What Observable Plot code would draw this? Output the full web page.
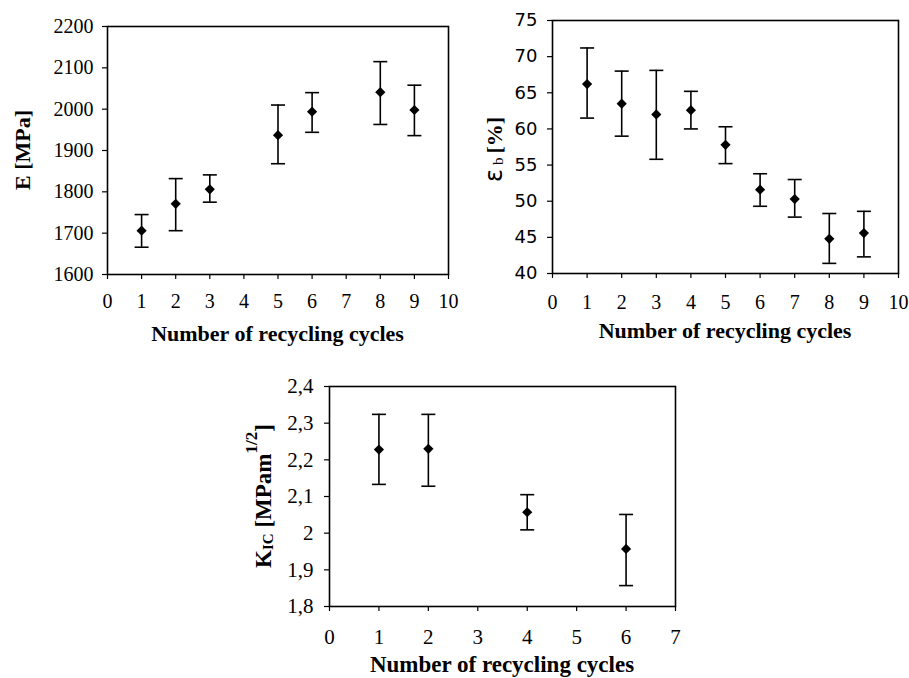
<!DOCTYPE html>
<html>
<head>
<meta charset="utf-8">
<script src="https://cdn.jsdelivr.net/npm/d3@7"></script>
<script src="https://cdn.jsdelivr.net/npm/@observablehq/plot@0.6"></script>
<style>
  html, body { margin: 0; padding: 0; background: #fff; }
  #wrap { position: relative; width: 909px; height: 678px; overflow: hidden; background: #fff; }
  #wrap svg { position: absolute; overflow: visible; }
</style>
</head>
<body>
<div id="wrap"></div>
<script>
// ---- Panel 1: Young's modulus ----
const eCycles = [1, 2, 3, 5, 6, 8, 9];
const eMean   = [1706, 1771, 1806, 1937, 1994, 2041, 1998];
const eHigh   = [1745, 1832, 1841, 2010, 2040, 2115, 2058];
const eLow    = [1666, 1706, 1775, 1868, 1944, 1963, 1936];
const eYTicks = [1600, 1700, 1800, 1900, 2000, 2100, 2200];
const eXTicks = [0, 1, 2, 3, 4, 5, 6, 7, 8, 9, 10];

// ---- Panel 2: elongation at break ----
const bCycles = [1, 2, 3, 4, 5, 6, 7, 8, 9];
const bMean   = [66.2, 63.5, 62.0, 62.6, 57.8, 51.6, 50.3, 44.8, 45.6];
const bHigh   = [71.2, 68.0, 68.1, 65.2, 60.3, 53.8, 53.0, 48.3, 48.6];
const bLow    = [61.5, 59.0, 55.8, 60.0, 55.2, 49.3, 47.8, 41.4, 42.3];
const bYTicks = [40, 45, 50, 55, 60, 65, 70, 75];
const bXTicks = [0, 1, 2, 3, 4, 5, 6, 7, 8, 9, 10];

// ---- Panel 3: fracture toughness ----
const kCycles = [1, 2, 4, 6];
const kMean   = [2.228, 2.230, 2.057, 1.957];
const kHigh   = [2.324, 2.324, 2.105, 2.051];
const kLow    = [2.133, 2.128, 2.009, 1.857];
const kYTicks = [1.8, 1.9, 2.0, 2.1, 2.2, 2.3, 2.4];
const kXTicks = [0, 1, 2, 3, 4, 5, 6, 7];

const xTitle = "Number of recycling cycles";
const SERIF = "'Liberation Serif', 'Times New Roman', serif";
const SANS = "'DejaVu Sans', 'Noto Sans', sans-serif";

const capSymbol = {
  draw(ctx, size) {
    const r = Math.sqrt(size / Math.PI);
    ctx.moveTo(-r, 0);
    ctx.lineTo(r, 0);
  }
};

function rows(cycles, mean, hi, lo) {
  return cycles.map((c, i) => ({c, m: mean[i], hi: hi[i], lo: lo[i]}));
}

const plain = d => String(d);

function panel(o) {
  const data = rows(o.cycles, o.mean, o.hi, o.lo);
  const chart = Plot.plot({
    width: o.width, height: o.height,
    marginLeft: o.ml, marginRight: o.mr, marginTop: o.mt, marginBottom: o.mb,
    style: {fontFamily: SERIF, fontSize: o.fs + "px", color: "black", background: "transparent"},
    x: {domain: o.xDomain, label: null},
    y: {domain: o.yDomain, label: null},
    marks: [
      Plot.axisX({ticks: o.xTicks, tickSize: 5, tickPadding: o.xpad, tickFormat: plain, label: null, stroke: "black", strokeWidth: 1.2}),
      Plot.axisY({ticks: o.yTicks, tickSize: 5, tickPadding: o.ypad, tickFormat: o.yFmt || plain, label: null, stroke: "black", strokeWidth: 1.2}),
      Plot.frame({stroke: "black", strokeWidth: 1.6}),
      Plot.ruleX(data, {x: "c", y1: "lo", y2: "hi", stroke: "black", strokeWidth: 1.6}),
      Plot.dot(data, {x: "c", y: "hi", symbol: capSymbol, r: 7, stroke: "black", strokeWidth: 1.6, fill: "none"}),
      Plot.dot(data, {x: "c", y: "lo", symbol: capSymbol, r: 7, stroke: "black", strokeWidth: 1.6, fill: "none"}),
      Plot.dot(data, {x: "c", y: "m", symbol: "diamond2", r: 4.6, fill: "black", stroke: "none"})
    ]
  });
  chart.style.left = o.left + "px";
  chart.style.top = o.top + "px";
  const svg = d3.select(chart);
  svg.selectAll('g[aria-label="x-axis tick label"]')
    .attr("font-size", o.fs).attr("font-family", SERIF).attr("fill", "black");
  svg.selectAll('g[aria-label="y-axis tick label"]')
    .attr("font-size", o.yfs || o.fs).attr("font-family", o.yFont || SERIF).attr("fill", "black");
  const cx = (o.ml + o.width - o.mr) / 2;
  svg.append("text")
    .attr("x", cx).attr("y", o.height - o.mb + o.titleOff)
    .attr("text-anchor", "middle").attr("dominant-baseline", "central")
    .attr("font-family", SERIF).attr("font-weight", "bold").attr("font-size", o.tfs)
    .attr("fill", "black")
    .text(xTitle);
  const cy = (o.mt + o.height - o.mb) / 2;
  const yt = svg.append("text")
    .attr("transform", `translate(${o.ytx},${cy + (o.ytdy || 0)}) rotate(-90)`)
    .attr("text-anchor", "middle").attr("dominant-baseline", "central")
    .attr("font-family", SERIF).attr("font-weight", "bold").attr("font-size", o.tfs)
    .attr("fill", "black");
  o.yTitle(yt);
  document.getElementById("wrap").appendChild(chart);
}

panel({
  cycles: eCycles, mean: eMean, hi: eHigh, lo: eLow,
  xTicks: eXTicks, yTicks: eYTicks, xDomain: [0, 10], yDomain: [1600, 2200],
  left: 0, top: 0, width: 465, height: 345, ml: 107, mr: 17, mt: 26, mb: 71,
  fs: 20, xpad: 14, ypad: 9, tfs: 22, titleOff: 59, ytx: 22,
  yTitle: t => t.text("E [MPa]")
});

panel({
  cycles: bCycles, mean: bMean, hi: bHigh, lo: bLow,
  xTicks: bXTicks, yTicks: bYTicks, xDomain: [0, 10], yDomain: [40, 75],
  left: 450, top: 0, width: 459, height: 345, ml: 102, mr: 11, mt: 20, mb: 72,
  fs: 20, yfs: 18, yFont: SANS, xpad: 16, ypad: 10, tfs: 22, titleOff: 57, ytx: 44, ytdy: 3,
  yTitle: t => {
    t.append("tspan").attr("font-family", SANS).attr("font-weight", "normal").attr("font-size", 24).text("ε");
    t.append("tspan").attr("font-family", SERIF).attr("font-weight", "normal").attr("font-size", 15).attr("dx", 4).attr("dy", 4).text("b");
    t.append("tspan").attr("dx", 4).attr("dy", -4).text("[%]");
  }
});

panel({
  cycles: kCycles, mean: kMean, hi: kHigh, lo: kLow,
  xTicks: kXTicks, yTicks: kYTicks, xDomain: [0, 7], yDomain: [1.8, 2.4],
  yFmt: d => String(+d.toFixed(1)).replace(".", ","),
  left: 230, top: 360, width: 460, height: 318, ml: 99, mr: 15, mt: 26, mb: 72,
  fs: 21, xpad: 18, ypad: 11, tfs: 23, titleOff: 58, ytx: 33, ytdy: 0,
  yTitle: t => {
    t.append("tspan").text("K");
    t.append("tspan").attr("font-size", 15).attr("dy", 5).text("IC");
    t.append("tspan").attr("dy", -5).text(" [MPam");
    t.append("tspan").attr("font-size", 17).attr("dy", -12).text("1/2");
    t.append("tspan").attr("dy", 12).text("]");
  }
});
</script>
</body>
</html>
